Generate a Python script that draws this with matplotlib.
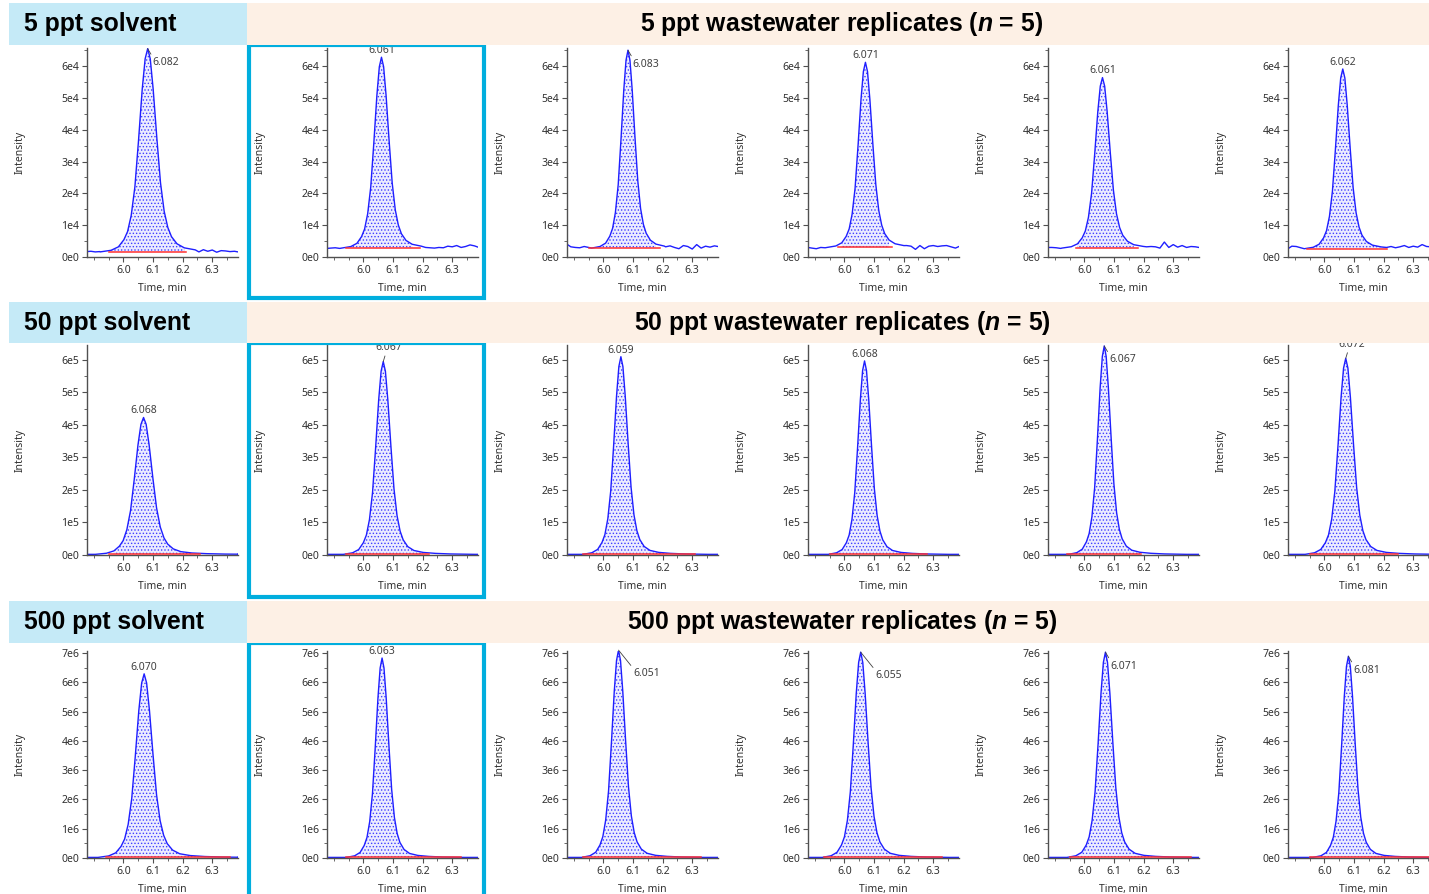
import numpy as np
import matplotlib
matplotlib.use('Agg')
import matplotlib.pyplot as plt
from matplotlib.patches import Rectangle
from matplotlib.ticker import FixedLocator, MultipleLocator, FuncFormatter

plt.rcParams['font.family'] = ['Noto Sans', 'DejaVu Sans']
plt.rcParams['mathtext.fontset'] = 'custom'
plt.rcParams['mathtext.it'] = 'Liberation Sans:italic:bold'
plt.rcParams['mathtext.rm'] = 'Liberation Sans:bold'
plt.rcParams['hatch.linewidth'] = 0.6

# peak shape (time from apex in min, fraction of apex height)
profile_dt = [-0.13, -0.10, -0.08, -0.065, -0.055, -0.045, -0.035, -0.025, -0.015, -0.007, 0.0,
              0.007, 0.015, 0.025, 0.035, 0.045, 0.055, 0.065, 0.08, 0.10, 0.13, 0.17, 0.22, 0.30]
profile_frac = [0.0, 0.008, 0.025, 0.06, 0.10, 0.18, 0.32, 0.55, 0.80, 0.95, 1.0,
                0.95, 0.80, 0.56, 0.34, 0.20, 0.12, 0.075, 0.04, 0.02, 0.01, 0.005, 0.002, 0.0]
profile_fwhm = 0.055

row_titles_left = ['5 ppt solvent', '50 ppt solvent', '500 ppt solvent']
row_titles_right = ['5 ppt wastewater replicates ($n$ = 5)',
                    '50 ppt wastewater replicates ($n$ = 5)',
                    '500 ppt wastewater replicates ($n$ = 5)']

# apex retention times (labels), apex heights, peak widths, baselines, integration limits
rt_5 = [6.082, 6.061, 6.083, 6.071, 6.061, 6.062]
height_5 = [6.55e4, 6.28e4, 6.50e4, 6.12e4, 5.64e4, 5.91e4]
fwhm_5 = [0.068, 0.057, 0.052, 0.055, 0.058, 0.055]
base_5 = [1.6e3, 2.8e3, 2.8e3, 3.0e3, 2.8e3, 2.6e3]
start_5 = [5.95, 5.94, 5.95, 5.98, 5.97, 5.94]
end_5 = [6.21, 6.19, 6.19, 6.16, 6.18, 6.21]

rt_50 = [6.068, 6.067, 6.059, 6.068, 6.067, 6.072]
height_50 = [4.23e5, 5.95e5, 6.10e5, 5.97e5, 6.43e5, 6.05e5]
fwhm_50 = [0.069, 0.057, 0.054, 0.052, 0.051, 0.058]
base_50 = [2e3, 2e3, 2e3, 2e3, 2e3, 2e3]
start_50 = [5.95, 5.94, 5.93, 5.95, 5.94, 5.95]
end_50 = [6.26, 6.22, 6.31, 6.28, 6.19, 6.25]

rt_500 = [6.070, 6.063, 6.051, 6.055, 6.071, 6.081]
height_500 = [6.29e6, 6.83e6, 7.10e6, 7.03e6, 7.03e6, 6.89e6]
fwhm_500 = [0.066, 0.051, 0.053, 0.055, 0.055, 0.051]
base_500 = [2e4, 2e4, 2e4, 2e4, 2e4, 2e4]
start_500 = [5.94, 5.94, 5.93, 5.93, 5.95, 5.95]
end_500 = [6.36, 6.33, 6.33, 6.33, 6.36, 6.37]

# baseline noise of the 5 ppt traces (x1e3 counts)
noise_t_left = [5.877, 5.89, 5.905, 5.92, 5.935]
noise_t_right = [6.21, 6.225, 6.24, 6.255, 6.27, 6.285, 6.30, 6.315, 6.33, 6.345, 6.36, 6.375, 6.387]
noise_left_5 = [[1.7, 1.8, 1.6, 1.7, 1.8],
                [2.7, 2.8, 2.9, 2.7, 2.8],
                [4.0, 3.2, 3.0, 2.9, 3.3],
                [3.0, 2.8, 2.6, 3.0, 2.9],
                [3.0, 3.0, 2.9, 2.7, 2.9],
                [2.6, 3.4, 3.3, 2.9, 2.7]]
noise_right_5 = [[2.0, 2.6, 1.9, 1.6, 2.3, 1.8, 2.2, 1.5, 2.0, 1.9, 1.7, 1.8, 1.6],
                 [3.0, 2.9, 2.8, 3.0, 2.9, 3.4, 3.2, 3.6, 3.0, 3.3, 3.8, 3.5, 3.1],
                 [3.2, 3.5, 3.0, 2.6, 3.6, 3.3, 2.5, 3.9, 2.8, 3.4, 3.1, 3.5, 3.3],
                 [3.6, 3.4, 2.4, 3.6, 2.6, 3.4, 3.6, 3.3, 3.5, 3.6, 3.2, 2.8, 3.3],
                 [3.2, 3.3, 3.2, 2.8, 4.7, 3.0, 3.9, 3.1, 3.6, 3.0, 3.3, 3.2, 3.0],
                 [3.0, 3.3, 2.9, 3.2, 3.6, 3.0, 3.4, 3.1, 3.9, 3.3, 3.2, 3.4, 2.8]]

rows = [
    dict(rt=rt_5, h=height_5, w=fwhm_5, b=base_5, s=start_5, e=end_5, exp=4, ymax=6.57e4, nmaj=7),
    dict(rt=rt_50, h=height_50, w=fwhm_50, b=base_50, s=start_50, e=end_50, exp=5, ymax=6.46e5, nmaj=7),
    dict(rt=rt_500, h=height_500, w=fwhm_500, b=base_500, s=start_500, e=end_500, exp=6, ymax=7.07e6, nmaj=8),
]
label_style = [['right', 'above', 'right', 'above', 'above', 'above'],
               ['above', 'above_lead', 'above', 'above', 'right', 'above_lead'],
               ['above', 'above', 'right_far', 'right_far', 'right', 'right']]

XLIM = (5.877, 6.387)
W, H = 1429, 894
fig = plt.figure(figsize=(W / 100, H / 100), dpi=100)


def fr(x0, y0, x1, y1):
    return [x0 / W, 1 - y1 / H, (x1 - x0) / W, (y1 - y0) / H]


def sci_label(v, ex):
    if abs(v) < 1e-9:
        return '0e0'
    return f"{v / 10 ** ex:.0f}e{ex}"


col_left = [87, 327, 567, 808, 1048, 1288]
row_y = [(48, 257), (345, 555), (651, 858)]
band_y = [(3, 45), (302, 343), (601, 643)]
frame_y = [(45, 298), (343, 597), (643, 905)]

dt = np.array(profile_dt)
frac = np.array(profile_frac)

for r, row in enumerate(rows):
    y0, y1 = row_y[r]
    for c in range(6):
        ax = fig.add_axes(fr(col_left[c], y0, col_left[c] + 151, y1))
        apex, h, base = row['rt'][c], row['h'][c], row['b'][c]
        k = row['w'][c] / profile_fwhm
        if r == 0:
            keep = dt <= 0.13
            px = apex + dt[keep] * k
            py = base + (h - base) * frac[keep]
            nl = np.array(noise_left_5[c]) * 1e3
            nr = np.array(noise_right_5[c]) * 1e3
            tl = np.array(noise_t_left)
            tr = np.array(noise_t_right)
            ml = tl < px.min()
            mr = tr > px.max()
            x = np.concatenate([tl[ml], px, tr[mr]])
            y = np.concatenate([nl[ml], py, nr[mr]])
        else:
            px = apex + dt * k
            py = base + (h - base) * frac
            x = np.concatenate([[XLIM[0]], px, [XLIM[1]]])
            y = np.concatenate([[base], py, [base]])

        s, e = row['s'][c], row['e'][c]
        inside = (x >= s) & (x <= e)
        ax.fill_between(x, base, y, where=inside, facecolor='#ececff', edgecolor='#4040ff',
                        hatch='.....', linewidth=0, zorder=1)
        ax.plot(x, y, color='#1f1fff', lw=1.0, zorder=2)
        ax.plot([s, e], [base, base], color='#ff3030', lw=1.1, zorder=3)

        # apex label
        lab = f"{apex:.3f}"
        st = label_style[r][c]
        if st == 'above':
            ax.annotate(lab, xy=(apex, h), xytext=(0, 3), textcoords='offset points',
                        ha='center', va='baseline', fontsize=7.5, color='#404040',
                        annotation_clip=False)
        elif st == 'above_lead':
            ax.annotate(lab, xy=(apex, h), xytext=(4, 10), textcoords='offset points',
                        ha='center', va='center', fontsize=7.5, color='#404040',
                        annotation_clip=False,
                        arrowprops=dict(arrowstyle='-', color='#404040', lw=0.6,
                                        shrinkA=0, shrinkB=0, relpos=(0.4, 0.1)))
        else:
            dx, dy = (3.5, -10) if st == 'right' else (10.5, -17)
            ax.annotate(lab, xy=(apex, h), xytext=(dx, dy), textcoords='offset points',
                        ha='left', va='center', fontsize=7.5, color='#404040',
                        annotation_clip=False,
                        arrowprops=dict(arrowstyle='-', color='#404040', lw=0.6,
                                        shrinkA=0, shrinkB=0, relpos=(0.0, 1.0)))

        ax.set_xlim(*XLIM)
        ax.set_ylim(0, row['ymax'])
        ax.xaxis.set_major_locator(FixedLocator([6.0, 6.1, 6.2, 6.3]))
        ax.xaxis.set_minor_locator(MultipleLocator(0.05))
        ax.xaxis.set_major_formatter(FuncFormatter(lambda v, p: f"{v:.1f}"))
        ex = row['exp']
        ax.yaxis.set_major_locator(FixedLocator([i * 10 ** ex for i in range(row['nmaj'])]))
        ax.yaxis.set_minor_locator(MultipleLocator(0.5 * 10 ** ex))
        ax.yaxis.set_major_formatter(FuncFormatter(lambda v, p, ex=ex: sci_label(v, ex)))
        for side in ['top', 'right']:
            ax.spines[side].set_visible(False)
        for side in ['left', 'bottom']:
            ax.spines[side].set_color('#505050')
            ax.spines[side].set_linewidth(1.0)
        ax.tick_params(which='major', length=3.5, width=0.8, color='#505050',
                       labelsize=7.5, labelcolor='#303030', pad=2)
        ax.tick_params(which='minor', length=2, width=0.6, color='#505050')
        ax.set_ylabel('Intensity', fontsize=7.5, color='#303030')
        ax.set_xlabel('Time, min', fontsize=7.5, color='#303030')
        ax.yaxis.set_label_coords(-61 / 151, 0.5)
        ax.xaxis.set_label_coords(0.5, -26 / 209)
        ax.patch.set_alpha(0)

    # header bands
    b0, b1 = band_y[r]
    fig.patches.append(Rectangle((9 / W, 1 - b1 / H), (247 - 9) / W, (b1 - b0) / H,
                                 transform=fig.transFigure, facecolor='#c5eaf7',
                                 edgecolor='none', zorder=3))
    fig.patches.append(Rectangle((247 / W, 1 - b1 / H), (1429 - 247) / W, (b1 - b0) / H,
                                 transform=fig.transFigure, facecolor='#fdf0e5',
                                 edgecolor='none', zorder=3))
    yc = 1 - (b0 + b1 + 1) / 2 / H
    fig.text(24 / W, yc, row_titles_left[r], fontsize=17.8, fontweight='bold',
             family='Liberation Sans', ha='left', va='center', zorder=4)
    fig.text(842 / W, yc, row_titles_right[r], fontsize=17.8, fontweight='bold',
             family='Liberation Sans', ha='center', va='center', zorder=4)

    # frame around the first replicate
    f0, f1 = frame_y[r]
    fig.patches.append(Rectangle((249 / W, 1 - f1 / H), (484 - 249) / W, (f1 - f0) / H,
                                 transform=fig.transFigure, facecolor='none',
                                 edgecolor='#00aede', lw=3, zorder=2))

fig.savefig('out.png', dpi=100)
